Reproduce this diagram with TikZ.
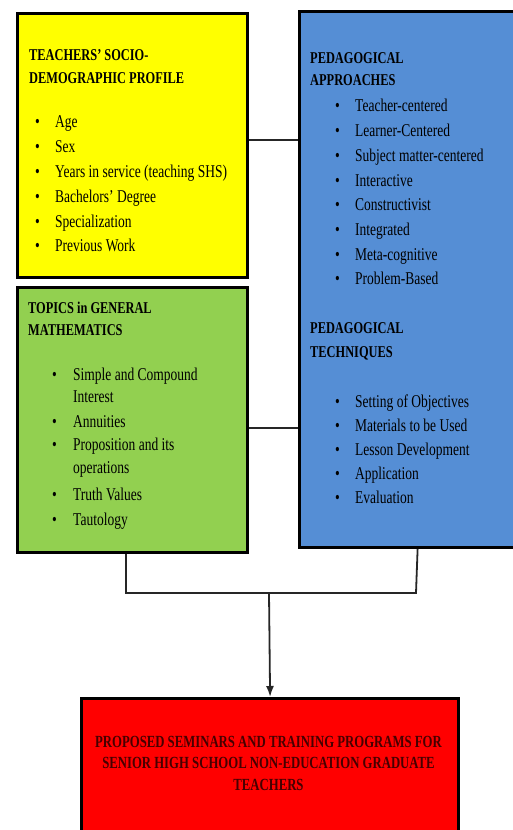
\documentclass[tikz,border=0pt]{standalone}
\usepackage{fontspec}
\setmainfont[FakeStretch=0.75]{Liberation Serif}
\usetikzlibrary{arrows.meta}
\definecolor{ylw}{RGB}{255,255,0}
\definecolor{grn}{RGB}{146,208,80}
\definecolor{blu}{RGB}{85,142,213}
\definecolor{rd}{RGB}{255,0,0}
\definecolor{rdtext}{RGB}{70,0,0}
\newcommand{\bodyfont}{\fontsize{18}{25}\selectfont}
\newcommand{\headfont}{\fontsize{16.5}{23}\selectfont\bfseries}
\newcommand{\redfont}{\fontsize{17}{22}\selectfont\bfseries}
\begin{document}
\begin{tikzpicture}[x=1pt,y=-1pt,
  box/.style={draw=black, line width=3.2pt, inner sep=0pt, anchor=north west},
  conn/.style={draw=black!85, line width=1.8pt},
  txt/.style={inner sep=0pt, anchor=base west, font=\bodyfont},
  head/.style={inner sep=0pt, anchor=base west, font=\headfont},
  bul/.style={inner sep=0pt, anchor=base west, font=\bodyfont}]
\useasboundingbox (0,0) rectangle (513,830);
\clip (0,0) rectangle (513,830);
% boxes
\node[box, fill=ylw, minimum width=230pt, minimum height=264pt] (yel) at (16,12) {};
\node[box, fill=grn, minimum width=230pt, minimum height=265pt] (gr) at (16,286) {};
\node[box, fill=blu, minimum width=236pt, minimum height=536pt] (bl) at (298,10) {};
\node[box, fill=rd, minimum width=377pt, minimum height=160pt] (red) at (80,697) {};
% connectors
\draw[conn] ([yshift=6pt]yel.east) -- ([yshift=6pt]yel.east -| bl.west);
\draw[conn] ([yshift=-7.5pt]gr.east) -- ([yshift=-7.5pt]gr.east -| bl.west);
\coordinate (jl) at (126,593);
\coordinate (jr) at (416,593);
\coordinate (jm) at (269,593);
\draw[conn] (jl |- gr.south) -- (jl) -- (jr) -- (bl.south);
\draw[conn, -{Latex[length=11pt,width=8pt]}] (jm) -- (red.north);
% yellow text
\node[head] (yt1) at (29,60) {TEACHERS’ SOCIO-};
\node[head] (yt2) at (29,83) {DEMOGRAPHIC PROFILE};
\foreach \yy/\tx [count=\i] in {127/Age,152/Sex,177/Years in service (teaching SHS),202/Bachelors’ Degree,227/Specialization,251/Previous Work}{
  \node[bul] (yb\i) at (35,\yy) {•};
  \node[txt] (yi\i) at (55,\yy) {\tx};
}
% blue text
\node[head] (bt1) at (310,63) {PEDAGOGICAL};
\node[head] (bt2) at (310,85) {APPROACHES};
\foreach \yy/\tx [count=\i] in {111.5/Teacher-centered,136/Learner-Centered,161/Subject matter-centered,186/Interactive,210.5/Constructivist,235/Integrated,260/Meta-cognitive,284.5/Problem-Based}{
  \node[bul] (bb\i) at (335,\yy) {•};
  \node[txt] (bi\i) at (355,\yy) {\tx};
}
\node[head] (bt3) at (310,333) {PEDAGOGICAL};
\node[head] (bt4) at (310,357) {TECHNIQUES};
\foreach \yy/\tx [count=\i] in {407/Setting of Objectives,431/Materials to be Used,455/Lesson Development,479/Application,503/Evaluation}{
  \node[bul] (tb\i) at (335,\yy) {•};
  \node[txt] (ti\i) at (355,\yy) {\tx};
}
% green text
\node[head] (gt1) at (28,313) {TOPICS in GENERAL};
\node[head] (gt2) at (28,335) {MATHEMATICS};
\foreach \yy [count=\i] in {380,427,450,500,525}{
  \node[bul] (gb\i) at (52,\yy) {•};
}
\node[txt] (gi1) at (73,380) {Simple and Compound};
\node[txt] (gi2) at (73,402) {Interest};
\node[txt] (gi3) at (73,427) {Annuities};
\node[txt] (gi4) at (73,450) {Proposition and its};
\node[txt] (gi5) at (73,473) {operations};
\node[txt] (gi6) at (73,500) {Truth Values};
\node[txt] (gi7) at (73,525) {Tautology};
% red text
\node[inner sep=0pt, anchor=base, font=\redfont, text=rdtext] (rt1) at (268.5,747) {PROPOSED SEMINARS AND TRAINING PROGRAMS FOR};
\node[inner sep=0pt, anchor=base, font=\redfont, text=rdtext] (rt2) at (268.5,768) {SENIOR HIGH SCHOOL NON-EDUCATION GRADUATE};
\node[inner sep=0pt, anchor=base, font=\redfont, text=rdtext] (rt3) at (268.5,790) {TEACHERS};
\end{tikzpicture}
\end{document}
